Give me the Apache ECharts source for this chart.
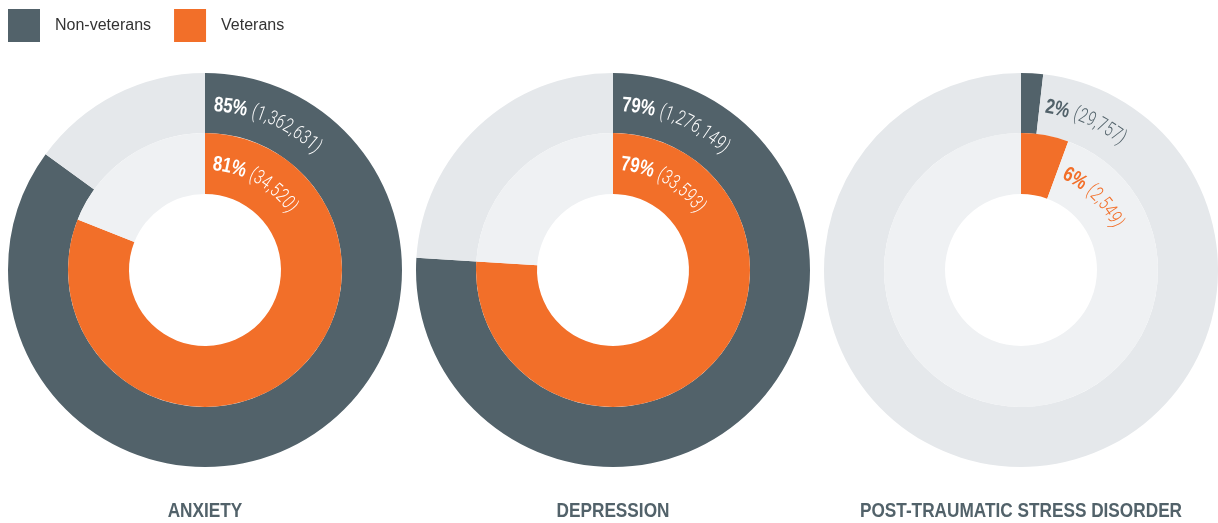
<!DOCTYPE html>
<html><head><meta charset="utf-8">
<script src="https://cdn.jsdelivr.net/npm/echarts@6/dist/echarts.min.js"></script>
<style>html,body{margin:0;padding:0;background:#fff}#c{width:1218px;height:523px}</style>
</head><body><div id="c"></div>
<script>
const categories = ['ANXIETY', 'DEPRESSION', 'POST-TRAUMATIC STRESS DISORDER'];
const nonVetPctLabel = ['85%', '79%', '2%'];
const nonVetCount = ['1,362,631', '1,276,149', '29,757'];
const vetPctLabel = ['81%', '79%', '6%'];
const vetCount = ['34,520', '33,593', '2,549'];
// arc shares as drawn in the picture (percent)
const nonVetArc = [85, 76, 1.8];
const vetArc = [81, 76, 5.6];
const legendNames = ['Non-veterans', 'Veterans'];

const DARK = '#52626a', ORANGE = '#f26f29', LIGHT_OUT = '#e5e8eb', LIGHT_IN = '#eff1f3';
const centersX = [205, 613, 1021];
const CY = 270;
const R_OUT = [137, 197], R_IN = [76, 137];
const SANS = '"Liberation Sans", Arial, sans-serif';

const chart = echarts.init(document.getElementById('c'), null, {renderer: 'canvas'});

const series = [];
categories.forEach((cat, i) => {
  series.push({
    type: 'pie', name: cat + ' outer', center: [centersX[i], CY], radius: R_OUT,
    startAngle: 90, clockwise: true, silent: true, animation: false,
    label: {show: false}, labelLine: {show: false},
    data: [
      {name: legendNames[0], value: nonVetArc[i], itemStyle: {color: DARK}},
      {name: 'Non-veterans (rest)', value: 100 - nonVetArc[i], itemStyle: {color: LIGHT_OUT}}
    ]
  });
  series.push({
    type: 'pie', name: cat + ' inner', center: [centersX[i], CY], radius: R_IN,
    startAngle: 90, clockwise: true, silent: true, animation: false,
    label: {show: false}, labelLine: {show: false},
    data: [
      {name: legendNames[1], value: vetArc[i], itemStyle: {color: ORANGE}},
      {name: 'Veterans (rest)', value: 100 - vetArc[i], itemStyle: {color: LIGHT_IN}}
    ]
  });
});

// curved text helpers
const mctx = document.createElement('canvas').getContext('2d');
function arcText(parts, cx, cy, r, startS, color) {
  const els = [];
  let s = startS;
  parts.forEach(p => {
    const font = p.weight + ' ' + p.size + 'px ' + p.family;
    mctx.font = font;
    for (const ch of p.text) {
      const w = mctx.measureText(ch).width * p.sx + (p.ls || 0);
      const sc = s + w / 2;
      const th = sc / r;
      els.push({
        type: 'group', silent: true,
        x: cx + r * Math.sin(th), y: cy - r * Math.cos(th),
        rotation: -th,
        children: [{
          type: 'text', silent: true, z: 100, scaleX: p.sx, scaleY: 1,
          style: {text: ch, fill: color, font: font, align: 'center', verticalAlign: 'middle'}
        }]
      });
      s += w;
    }
    s += p.after || 0;
  });
  return els;
}

const graphics = [];
categories.forEach((cat, i) => {
  const cx = centersX[i];
  const rOutText = 165, rInText = 106;
  const big = nonVetArc[i] >= 50;
  const colOut = big ? '#ffffff' : DARK;
  const colIn = big ? '#ffffff' : ORANGE;
  const sOut = big ? 9 : (nonVetArc[i] / 100 * 2 * Math.PI * rOutText + 6);
  const sIn = big ? 8 : (vetArc[i] / 100 * 2 * Math.PI * rInText + 7);
  const mk = (pct, cnt) => [
    {text: pct, weight: 'bold', size: 21, family: SANS, sx: 0.8, after: 5},
    {text: '(' + cnt + ')', weight: '300', size: 20, family: 'Roboto', sx: 0.72, ls: 0.6}
  ];
  graphics.push(...arcText(mk(nonVetPctLabel[i], nonVetCount[i]), cx, CY, rOutText, sOut, colOut));
  graphics.push(...arcText(mk(vetPctLabel[i], vetCount[i]), cx, CY, rInText, sIn, colIn));
  graphics.push({
    type: 'text', silent: true, z: 100, x: cx, y: 511, scaleX: 0.82,
    style: {text: cat, fill: DARK, font: 'bold 21px ' + SANS, align: 'center', verticalAlign: 'middle'}
  });
});

chart.setOption({
  animation: false,
  legend: {
    data: legendNames, left: 8, top: 9, padding: 0, icon: 'rect', itemWidth: 32, itemHeight: 33, itemGap: 23,
    selectedMode: false,
    textStyle: {fontSize: 16, color: '#333', fontFamily: SANS, padding: [0, 0, 0, 10]}
  },
  series: series,
  graphic: graphics
});
</script></body></html>
